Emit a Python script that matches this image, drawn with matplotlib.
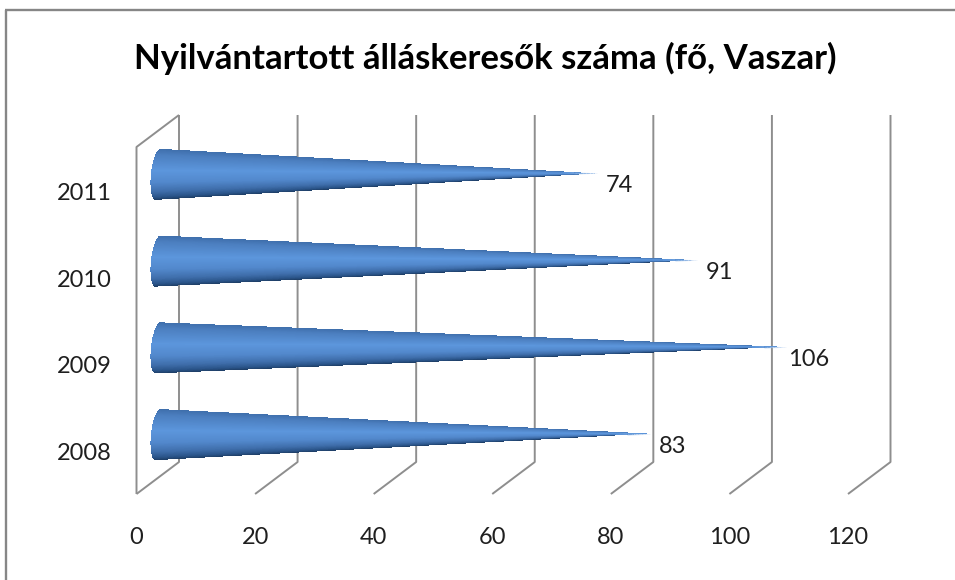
import numpy as np
import matplotlib
matplotlib.use("Agg")
import matplotlib.pyplot as plt
from matplotlib.colors import LinearSegmentedColormap
from matplotlib.collections import LineCollection
from matplotlib.lines import Line2D
from matplotlib.transforms import ScaledTranslation

years = ["2008", "2009", "2010", "2011"]
values = [83, 106, 91, 74]
xticks = [0, 20, 40, 60, 80, 100, 120]
title = "Nyilvántartott álláskeresők száma (fő, Vaszar)"

plt.rcParams['font.family'] = ['Lato', 'DejaVu Sans']
W, H = 955, 580
fig = plt.figure(figsize=(W/100, H/100), dpi=100, facecolor="white")
frame = "#868686"
fig.add_artist(Line2D([6/W, 6/W], [0, 1-9.5/H], color=frame, lw=1.7, transform=fig.transFigure, solid_capstyle="butt"))
fig.add_artist(Line2D([5/W, 1], [1-9.5/H, 1-9.5/H], color=frame, lw=1.7, transform=fig.transFigure, solid_capstyle="butt"))
L, R, T, B = 136.5, 848, 147, 494
ax = fig.add_axes([L/W, 1-B/H, (R-L)/W, (B-T)/H])
ax.set_xlim(0, 120)
ax.set_ylim(0, 4)
for s in ax.spines.values():
    s.set_visible(False)
px = 120/(R-L)
py = 4/(B-T)
dx, dy = 42.5*px, 32*py

grid = "#8e8e8e"
lk = dict(color=grid, lw=1.4, clip_on=False, zorder=1, solid_capstyle="butt")
for v in xticks:
    ax.plot([v, v+dx, v+dx], [0, dy, 4+dy], **lk)
ax.plot([0, 0, dx], [0, 4, 4+dy], **lk)

cmap = LinearSegmentedColormap.from_list("cone", [
    (0.00, "#3f6fac"), (0.12, "#4c7fc0"), (0.42, "#5c96dc"), (0.66, "#5288cc"),
    (0.84, "#3f6eab"), (0.95, "#2a5489"), (1.00, "#1f4069")])
hh = 25.5*py      # half height of the cone base
hw = 7*px         # half width of the base ellipse
tilt = 2.5*px
fade_len = 45*px
tip_len = 34*px
for i, v in enumerate(values):
    cy = i + 0.5 + dy/2
    t = np.linspace(-1, 1, 161)
    s = np.linspace(0, 1, 401)
    S, Tt = np.meshgrid(s, t)
    bx = dx/2 - 3*px - tilt*Tt - hw*np.sqrt(1-Tt**2) + hw*0.45
    X = bx + (v + dx/2 - bx)*S
    Y = cy + (-Tt)*hh*(1-S) + S*1.0*py
    tc = 0.5*(t[:-1]+t[1:])
    sc = 0.5*(s[:-1]+s[1:])
    SC, TC = np.meshgrid(sc, tc)
    rgba = cmap((TC+1)/2)
    remaining = (1-SC)*v
    fade = np.clip(remaining/fade_len, 0, 1)
    # near the tip the shading flattens to mid blue
    mid = np.array(cmap(0.45))
    k = (1-fade)[..., None]
    rgb = rgba[..., :3]*(1-k) + mid[:3]*k
    rgba = np.concatenate([rgb, np.ones_like(rgb[..., :1])], axis=-1)
    ax.pcolormesh(X, Y, rgba, shading="flat", antialiased=False,
                  clip_on=False, zorder=2)
    # sub-pixel end of the cone: a hairline that washes out to white
    xe = v + dx/2
    ye = cy + 1.0*py
    xs = np.linspace(xe - tip_len, xe, 25)
    ys = np.full_like(xs, ye) + (xe - xs)/(xe - dx/2)*0
    pts = np.column_stack([xs, ys])
    segs = np.stack([pts[:-1], pts[1:]], axis=1)
    f = np.linspace(0, 1, len(segs))
    cols = [(*(mid[:3]*(1-a) + np.array([1, 1, 1])*a), 1.0) for a in f**1.5*0.9]
    ax.add_collection(LineCollection(segs, colors=cols, linewidths=np.linspace(1.3, 0.6, len(segs)),
                                     zorder=2, clip_on=False, capstyle="butt"))
    ax.annotate(str(v), (v+dx/2, cy), xytext=(22.5*0.72, -11.5*0.72), textcoords="offset points",
                ha="center", va="center", fontsize=17, color="#1f1f1f", zorder=3,
                annotation_clip=False)

ax.set_xticks(xticks)
ax.set_xticklabels([str(v) for v in xticks], fontsize=17, color="#1f1f1f")
ax.set_yticks(np.arange(4)+0.5)
ax.set_yticklabels(years, fontsize=17, color="#1f1f1f", va="center")
ax.tick_params(axis="x", length=0, pad=24)
ax.tick_params(axis="y", length=0, pad=18)
shift = ScaledTranslation(0, -3/100, fig.dpi_scale_trans)
for lab in ax.get_yticklabels():
    lab.set_transform(lab.get_transform() + shift)
fig.text(485/W, 1-58/H, title, ha="center", va="center", fontsize=25, fontweight="bold", color="black")
fig.savefig("out.png", dpi=100, facecolor="white")
